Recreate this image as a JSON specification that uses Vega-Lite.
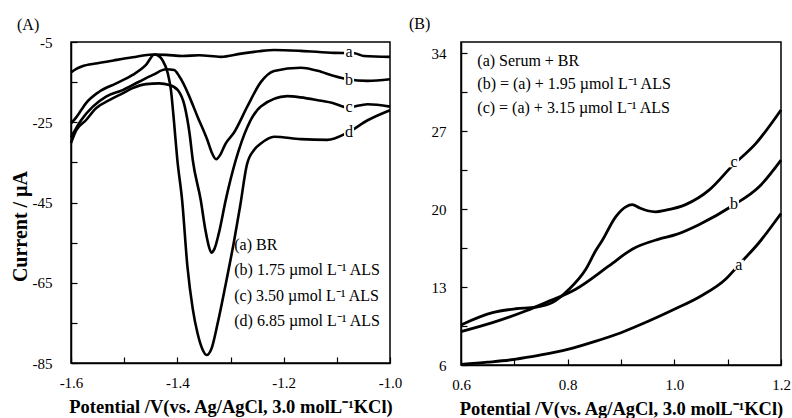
{
  "$schema": "https://vega.github.io/schema/vega-lite/v6.json",
  "padding": {"left": 9, "top": 15, "right": 0, "bottom": 0},
  "spacing": 5,
  "background": "white",
  "config": {
    "font": "Liberation Serif",
    "view": {"stroke": "black", "strokeWidth": 1.5},
    "axis": {
      "grid": false,
      "domainColor": "black",
      "domainWidth": 1.5,
      "tickColor": "black",
      "tickWidth": 1.2,
      "tickSize": -6,
      "labelColor": "black",
      "labelFont": "Liberation Serif",
      "labelFontSize": 15,
      "labelFlush": false,
      "labelOverlap": false,
      "titleFont": "Liberation Serif",
      "titleFontSize": 18.5,
      "titleFontWeight": "bold",
      "titleColor": "black"
    },
    "title": {"font": "Liberation Serif", "fontSize": 16, "fontWeight": "normal", "anchor": "start", "frame": "group", "color": "black"}
  },
  "hconcat": [
    {
      "width": 319,
      "height": 321,
      "title": {"text": "(A)", "dx": -54, "offset": 2},
      "encoding": {
        "x": {"field": "x", "type": "quantitative",
          "scale": {"domain": [-1.6, -1.0], "nice": false, "zero": false},
          "axis": {"title": "Potential /V(vs. Ag/AgCl, 3.0 molL⁻¹KCl)", "values": [-1.6, -1.5, -1.4, -1.3, -1.2, -1.1, -1.0],
            "labelExpr": "round(datum.value*10) % 2 == 0 ? (datum.value < 0 ? '-' : '') + format(abs(datum.value), '.1f') : ''",
            "labelPadding": 18, "titlePadding": 7}},
        "y": {"field": "y", "type": "quantitative",
          "scale": {"domain": [-85, -5], "nice": false, "zero": false},
          "axis": {"title": "Current / µA", "titleFontSize": 20, "values": [-85, -75, -65, -55, -45, -35, -25, -15, -5],
            "labelExpr": "(datum.value + 85) % 20 == 0 ? (datum.value < 0 ? '-' : '') + abs(datum.value) : ''",
            "labelPadding": 25, "titleX": -51, "titleY": 184, "titleAlign": "center", "titleBaseline": "middle", "titleAngle": -90}}
      },
      "layer": [
        {
          "data": {"values": [
            {"s": "a", "x": -1.6, "y": -12.6}, {"s": "a", "x": -1.59, "y": -11.7}, {"s": "a", "x": -1.58, "y": -11.1}, {"s": "a", "x": -1.55, "y": -10.3}, {"s": "a", "x": -1.52, "y": -9.6}, {"s": "a", "x": -1.484, "y": -8.8}, {"s": "a", "x": -1.446, "y": -8.1}, {"s": "a", "x": -1.421, "y": -8.2}, {"s": "a", "x": -1.39, "y": -8.5}, {"s": "a", "x": -1.359, "y": -8.3}, {"s": "a", "x": -1.318, "y": -8.7}, {"s": "a", "x": -1.28, "y": -7.9}, {"s": "a", "x": -1.246, "y": -7.3}, {"s": "a", "x": -1.218, "y": -7.0}, {"s": "a", "x": -1.168, "y": -7.2}, {"s": "a", "x": -1.105, "y": -7.7}, {"s": "a", "x": -1.067, "y": -7.8}, {"s": "a", "x": -1.049, "y": -8.5}, {"s": "a", "x": -1.0, "y": -8.7},
            {"s": "b", "x": -1.6, "y": -28.7}, {"s": "b", "x": -1.59, "y": -26.4}, {"s": "b", "x": -1.581, "y": -24.5}, {"s": "b", "x": -1.559, "y": -21.1}, {"s": "b", "x": -1.534, "y": -18.6}, {"s": "b", "x": -1.503, "y": -17.0}, {"s": "b", "x": -1.472, "y": -14.9}, {"s": "b", "x": -1.446, "y": -13.2}, {"s": "b", "x": -1.421, "y": -11.8}, {"s": "b", "x": -1.406, "y": -12.0}, {"s": "b", "x": -1.397, "y": -13.4}, {"s": "b", "x": -1.388, "y": -15.5}, {"s": "b", "x": -1.38, "y": -17.8}, {"s": "b", "x": -1.362, "y": -23.6}, {"s": "b", "x": -1.343, "y": -29.6}, {"s": "b", "x": -1.335, "y": -32.6}, {"s": "b", "x": -1.327, "y": -34.2}, {"s": "b", "x": -1.318, "y": -32.8}, {"s": "b", "x": -1.31, "y": -30.5}, {"s": "b", "x": -1.293, "y": -27.5}, {"s": "b", "x": -1.268, "y": -21.0}, {"s": "b", "x": -1.243, "y": -15.0}, {"s": "b", "x": -1.218, "y": -12.2}, {"s": "b", "x": -1.168, "y": -11.4}, {"s": "b", "x": -1.13, "y": -12.4}, {"s": "b", "x": -1.105, "y": -13.5}, {"s": "b", "x": -1.08, "y": -14.3}, {"s": "b", "x": -1.042, "y": -14.7}, {"s": "b", "x": -1.0, "y": -14.3},
            {"s": "c", "x": -1.6, "y": -30.2}, {"s": "c", "x": -1.59, "y": -27.0}, {"s": "c", "x": -1.572, "y": -24.5}, {"s": "c", "x": -1.553, "y": -21.5}, {"s": "c", "x": -1.528, "y": -19.5}, {"s": "c", "x": -1.503, "y": -17.8}, {"s": "c", "x": -1.484, "y": -16.5}, {"s": "c", "x": -1.459, "y": -15.5}, {"s": "c", "x": -1.434, "y": -15.3}, {"s": "c", "x": -1.415, "y": -15.7}, {"s": "c", "x": -1.399, "y": -17.0}, {"s": "c", "x": -1.386, "y": -21.1}, {"s": "c", "x": -1.377, "y": -27.8}, {"s": "c", "x": -1.371, "y": -34.4}, {"s": "c", "x": -1.356, "y": -44.4}, {"s": "c", "x": -1.347, "y": -52.0}, {"s": "c", "x": -1.341, "y": -55.8}, {"s": "c", "x": -1.336, "y": -57.5}, {"s": "c", "x": -1.33, "y": -56.5}, {"s": "c", "x": -1.322, "y": -52.7}, {"s": "c", "x": -1.309, "y": -44.4}, {"s": "c", "x": -1.29, "y": -34.4}, {"s": "c", "x": -1.268, "y": -26.1}, {"s": "c", "x": -1.243, "y": -21.1}, {"s": "c", "x": -1.193, "y": -18.5}, {"s": "c", "x": -1.168, "y": -18.8}, {"s": "c", "x": -1.136, "y": -19.5}, {"s": "c", "x": -1.105, "y": -20.3}, {"s": "c", "x": -1.08, "y": -21.3}, {"s": "c", "x": -1.042, "y": -20.5}, {"s": "c", "x": -1.0, "y": -21.1},
            {"s": "d", "x": -1.6, "y": -25.3}, {"s": "d", "x": -1.591, "y": -23.9}, {"s": "d", "x": -1.581, "y": -22.0}, {"s": "d", "x": -1.572, "y": -20.3}, {"s": "d", "x": -1.547, "y": -17.4}, {"s": "d", "x": -1.515, "y": -15.3}, {"s": "d", "x": -1.484, "y": -13.2}, {"s": "d", "x": -1.459, "y": -10.7}, {"s": "d", "x": -1.443, "y": -8.1}, {"s": "d", "x": -1.436, "y": -8.4}, {"s": "d", "x": -1.428, "y": -9.5}, {"s": "d", "x": -1.418, "y": -12.8}, {"s": "d", "x": -1.412, "y": -17.0}, {"s": "d", "x": -1.406, "y": -25.3}, {"s": "d", "x": -1.4, "y": -34.4}, {"s": "d", "x": -1.391, "y": -44.4}, {"s": "d", "x": -1.381, "y": -61.0}, {"s": "d", "x": -1.371, "y": -71.5}, {"s": "d", "x": -1.362, "y": -77.6}, {"s": "d", "x": -1.353, "y": -81.5}, {"s": "d", "x": -1.345, "y": -83.0}, {"s": "d", "x": -1.336, "y": -81.5}, {"s": "d", "x": -1.324, "y": -75.0}, {"s": "d", "x": -1.31, "y": -66.0}, {"s": "d", "x": -1.293, "y": -54.4}, {"s": "d", "x": -1.282, "y": -46.0}, {"s": "d", "x": -1.269, "y": -35.5}, {"s": "d", "x": -1.255, "y": -31.8}, {"s": "d", "x": -1.243, "y": -30.3}, {"s": "d", "x": -1.218, "y": -28.6}, {"s": "d", "x": -1.168, "y": -29.2}, {"s": "d", "x": -1.118, "y": -29.4}, {"s": "d", "x": -1.08, "y": -27.6}, {"s": "d", "x": -1.042, "y": -24.5}, {"s": "d", "x": -1.0, "y": -22.0}
          ]},
          "mark": {"type": "line", "color": "black", "strokeWidth": 2.6, "interpolate": "monotone"},
          "encoding": {"detail": {"field": "s"}}
        },
        {
          "data": {"values": [
            {"x": -1.077, "y": -7.6, "t": "a"}, {"x": -1.077, "y": -14.5, "t": "b"}, {"x": -1.077, "y": -21.3, "t": "c"}, {"x": -1.077, "y": -27.5, "t": "d"}
          ]},
          "layer": [
            {"mark": {"type": "square", "color": "white", "filled": true, "opacity": 1, "size": 100}},
            {"mark": {"type": "text", "fontSize": 16, "color": "black", "font": "Liberation Serif"}, "encoding": {"text": {"field": "t"}}}
          ]
        },
        {
          "data": {"values": [
            {"x": -1.293, "y": -55.6, "t": "(a) BR"},
            {"x": -1.293, "y": -61.9, "t": "(b) 1.75 µmol L⁻¹ ALS"},
            {"x": -1.293, "y": -68.3, "t": "(c) 3.50 µmol L⁻¹ ALS"},
            {"x": -1.293, "y": -74.5, "t": "(d) 6.85 µmol L⁻¹ ALS"}
          ]},
          "mark": {"type": "text", "align": "left", "baseline": "middle", "fontSize": 16, "color": "black", "font": "Liberation Serif"},
          "encoding": {"text": {"field": "t"}}
        }
      ]
    },
    {
      "width": 320,
      "height": 323,
      "title": {"text": "(B)", "dx": -52, "offset": 10},
      "encoding": {
        "x": {"field": "x", "type": "quantitative",
          "scale": {"domain": [0.6, 1.2], "nice": false, "zero": false},
          "axis": {"title": "Potential /V(vs. Ag/AgCl, 3.0 molL⁻¹KCl)", "values": [0.6, 0.7, 0.8, 0.9, 1.0, 1.1, 1.2],
            "labelExpr": "round(datum.value*10) % 2 == 0 ? format(datum.value, '.1f') : ''",
            "labelPadding": 18, "titlePadding": 7}},
        "y": {"field": "y", "type": "quantitative",
          "scale": {"domain": [6, 35], "nice": false, "zero": false},
          "axis": {"title": null, "values": [6, 9.5, 13, 16.5, 20, 23.5, 27, 30.5, 34],
            "labelExpr": "datum.value % 1 == 0 ? '' + datum.value : ''",
            "labelPadding": 21}}
      },
      "layer": [
        {
          "data": {"values": [
            {"s": "a", "x": 0.6, "y": 6.05}, {"s": "a", "x": 0.65, "y": 6.25}, {"s": "a", "x": 0.7, "y": 6.5}, {"s": "a", "x": 0.75, "y": 6.9}, {"s": "a", "x": 0.8, "y": 7.4}, {"s": "a", "x": 0.85, "y": 8.1}, {"s": "a", "x": 0.9, "y": 8.9}, {"s": "a", "x": 0.95, "y": 9.9}, {"s": "a", "x": 1.0, "y": 11.0}, {"s": "a", "x": 1.05, "y": 12.2}, {"s": "a", "x": 1.096, "y": 13.7}, {"s": "a", "x": 1.121, "y": 15.0}, {"s": "a", "x": 1.159, "y": 17.0}, {"s": "a", "x": 1.2, "y": 19.6},
            {"s": "b", "x": 0.6, "y": 9.0}, {"s": "b", "x": 0.659, "y": 9.8}, {"s": "b", "x": 0.721, "y": 10.85}, {"s": "b", "x": 0.759, "y": 11.6}, {"s": "b", "x": 0.815, "y": 12.8}, {"s": "b", "x": 0.8775, "y": 14.9}, {"s": "b", "x": 0.921, "y": 16.4}, {"s": "b", "x": 0.971, "y": 17.3}, {"s": "b", "x": 1.0025, "y": 17.7}, {"s": "b", "x": 1.046, "y": 18.6}, {"s": "b", "x": 1.109, "y": 20.3}, {"s": "b", "x": 1.159, "y": 22.0}, {"s": "b", "x": 1.2, "y": 24.4},
            {"s": "c", "x": 0.6, "y": 9.6}, {"s": "c", "x": 0.659, "y": 10.7}, {"s": "c", "x": 0.7025, "y": 11.05}, {"s": "c", "x": 0.74, "y": 11.2}, {"s": "c", "x": 0.771, "y": 11.6}, {"s": "c", "x": 0.8025, "y": 12.8}, {"s": "c", "x": 0.834, "y": 14.6}, {"s": "c", "x": 0.853, "y": 16.3}, {"s": "c", "x": 0.865, "y": 17.2}, {"s": "c", "x": 0.89, "y": 19.3}, {"s": "c", "x": 0.909, "y": 20.2}, {"s": "c", "x": 0.921, "y": 20.4}, {"s": "c", "x": 0.935, "y": 20.1}, {"s": "c", "x": 0.95, "y": 19.85}, {"s": "c", "x": 0.965, "y": 19.75}, {"s": "c", "x": 0.984, "y": 19.9}, {"s": "c", "x": 1.021, "y": 20.4}, {"s": "c", "x": 1.065, "y": 21.7}, {"s": "c", "x": 1.109, "y": 23.9}, {"s": "c", "x": 1.153, "y": 25.9}, {"s": "c", "x": 1.2, "y": 28.9}
          ]},
          "mark": {"type": "line", "color": "black", "strokeWidth": 2.8, "interpolate": "monotone"},
          "encoding": {"detail": {"field": "s"}}
        },
        {
          "data": {"values": [
            {"x": 1.112, "y": 24.2, "t": "c"}, {"x": 1.112, "y": 20.5, "t": "b"}, {"x": 1.121, "y": 15.0, "t": "a"}
          ]},
          "layer": [
            {"mark": {"type": "square", "color": "white", "filled": true, "opacity": 1, "size": 100}},
            {"mark": {"type": "text", "fontSize": 16, "color": "black", "font": "Liberation Serif"}, "encoding": {"text": {"field": "t"}}}
          ]
        },
        {
          "data": {"values": [
            {"x": 0.6306, "y": 33.3, "t": "(a) Serum + BR"},
            {"x": 0.6306, "y": 31.2, "t": "(b) = (a) + 1.95 µmol L⁻¹ ALS"},
            {"x": 0.6306, "y": 29.1, "t": "(c) = (a) + 3.15 µmol L⁻¹ ALS"}
          ]},
          "mark": {"type": "text", "align": "left", "baseline": "middle", "fontSize": 16, "color": "black", "font": "Liberation Serif"},
          "encoding": {"text": {"field": "t"}}
        }
      ]
    }
  ]
}
